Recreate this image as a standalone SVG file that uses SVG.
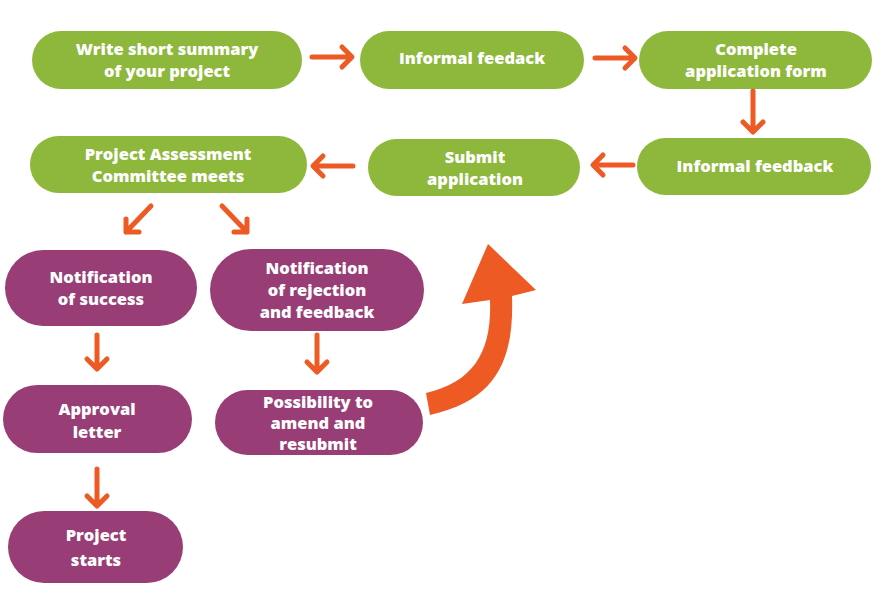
<svg xmlns="http://www.w3.org/2000/svg" width="874" height="605" viewBox="0 0 874 605">
<defs>
<style>
.g{fill:#8db83b}
.p{fill:#983d76}
.t{fill:#fff;font-family:"Open Sans","Liberation Sans",sans-serif;font-weight:800;font-size:16.5px;text-anchor:middle}
.a{fill:none;stroke:#ee5a24;stroke-width:5;stroke-linecap:round;stroke-linejoin:round}
</style>
</defs>
<rect width="874" height="605" fill="#fff"/>
<g id="n1"><rect class="g" x="32" y="31" width="270" height="58" rx="29"/><text class="t" x="167" y="55">Write short summary</text><text class="t" x="167" y="77">of your project</text></g>
<g id="n2"><rect class="g" x="360" y="31" width="224" height="58" rx="29"/><text class="t" x="472" y="64">Informal feedack</text></g>
<g id="n3"><rect class="g" x="639" y="31" width="233" height="58" rx="29"/><text class="t" x="756" y="55">Complete</text><text class="t" x="756" y="77">application form</text></g>
<g id="n4"><rect class="g" x="637" y="138" width="234" height="57" rx="28.5"/><text class="t" x="755" y="172">Informal feedback</text></g>
<g id="n5"><rect class="g" x="368" y="139" width="212" height="57" rx="28.5"/><text class="t" x="475" y="163">Submit</text><text class="t" x="475" y="185">application</text></g>
<g id="n6"><rect class="g" x="30" y="136" width="277" height="57" rx="28.5"/><text class="t" x="168" y="160">Project Assessment</text><text class="t" x="168" y="182">Committee meets</text></g>
<g id="n7"><rect class="p" x="5" y="250" width="192" height="76" rx="38"/><text class="t" x="101" y="283">Notification</text><text class="t" x="101" y="305">of success</text></g>
<g id="n8"><rect class="p" x="210" y="249" width="214" height="82" rx="41"/><text class="t" x="317" y="274">Notification</text><text class="t" x="317" y="296">of rejection</text><text class="t" x="317" y="318">and feedback</text></g>
<g id="n9"><rect class="p" x="215" y="390" width="208" height="65" rx="32.5"/><text class="t" x="318" y="408">Possibility to</text><text class="t" x="318" y="429">amend and</text><text class="t" x="318" y="450">resubmit</text></g>
<g id="n10"><rect class="p" x="3" y="385" width="189" height="68" rx="34"/><text class="t" x="97" y="415">Approval</text><text class="t" x="97" y="438">letter</text></g>
<g id="n11"><rect class="p" x="8" y="511" width="175" height="72" rx="36"/><text class="t" x="96" y="541">Project</text><text class="t" x="96" y="566">starts</text></g>
<g id="connectors">
<path class="a" d="M312 57H351M342 47L352 57L342 67"/>
<path class="a" d="M595 58H634M625 48L635 58L625 68"/>
<path class="a" d="M753 91V131M743 122L753 132L763 122"/>
<path class="a" d="M633 165H594M603 155L593 165L603 175"/>
<path class="a" d="M353 166H314M323 156L313 166L323 176"/>
<path class="a" d="M151 206L126 232M126 219L126 232L139 232"/>
<path class="a" d="M222 206L247 232M247 219L247 232L234 232"/>
<path class="a" d="M97 335V368M87 359L97 369L107 359"/>
<path class="a" d="M317 335V371M307 362L317 372L327 362"/>
<path class="a" d="M97 469V505M87 496L97 506L107 496"/>
<path fill="#ee5a24" d="M426 393C475 382 492 350 490 300L462 304L488 244L536 290L512 296C514 355 500 400 430 415Z"/>
</g>
</svg>
